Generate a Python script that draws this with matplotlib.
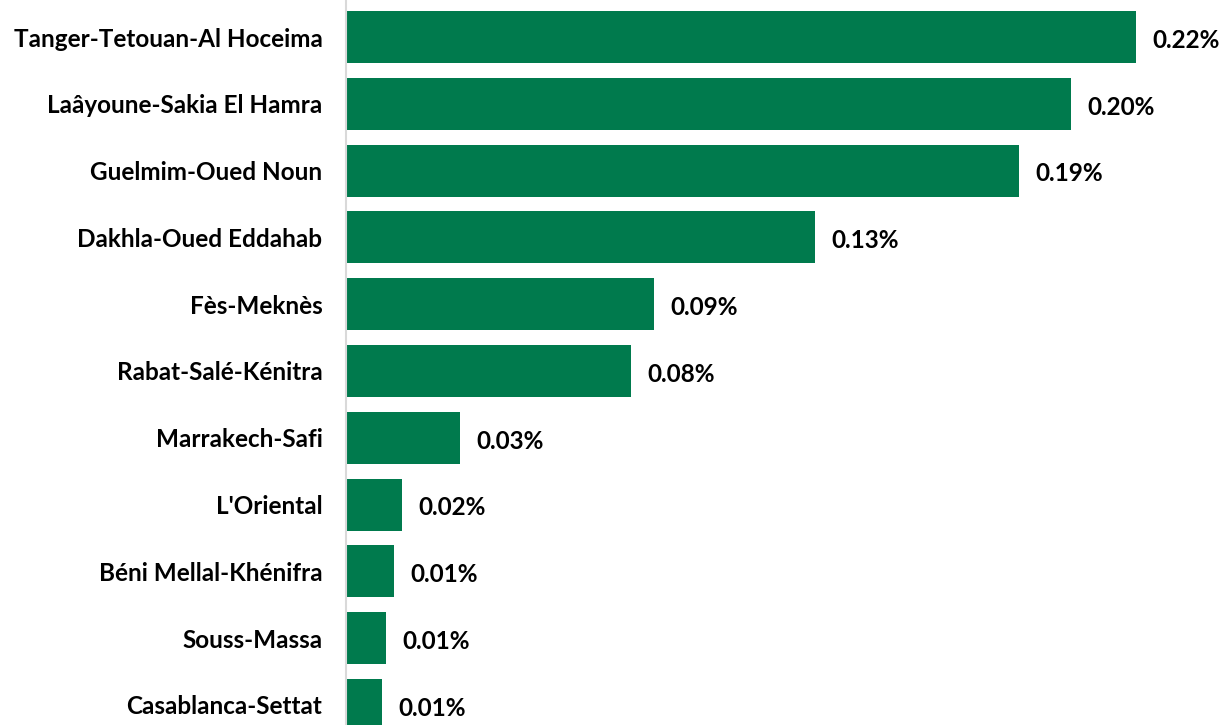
import numpy as np
import matplotlib.pyplot as plt

regions = ["Tanger-Tetouan-Al Hoceima", "Laâyoune-Sakia El Hamra", "Guelmim-Oued Noun",
           "Dakhla-Oued Eddahab", "Fès-Meknès", "Rabat-Salé-Kénitra", "Marrakech-Safi",
           "L'Oriental", "Béni Mellal-Khénifra", "Souss-Massa", "Casablanca-Settat"]
shares = [0.220, 0.202, 0.1875, 0.1306, 0.0858, 0.0794, 0.0318, 0.0156, 0.0134, 0.0111, 0.0100]

plt.rcParams['font.family'] = ['Lato', 'DejaVu Sans']

fig = plt.figure(figsize=(12.2, 7.25), dpi=100)
ax = fig.add_axes([346 / 1220, 0, 1 - 346 / 1220, 1])

y = np.arange(len(regions))
ax.barh(y, shares, height=0.78, color='#007A4D')

for yi, v in zip(y, shares):
    ax.text(v + 0.0045, yi + 0.05, f"{v:.2f}%", va='center', ha='left',
            fontsize=17.5, fontweight='bold', color='black')

ax.set_ylim(10.30, -0.554)
ax.set_xlim(0, 874 / 3590)
ax.set_yticks(y)
ax.set_yticklabels(regions, fontsize=17.5, fontweight='bold')
ax.tick_params(axis='y', length=0, pad=17)
ax.set_xticks([])
for s in ['top', 'right', 'bottom']:
    ax.spines[s].set_visible(False)
ax.spines['left'].set_color('#d9d9d9')
ax.spines['left'].set_linewidth(1.5)

fig.savefig('out.png', dpi=100)
